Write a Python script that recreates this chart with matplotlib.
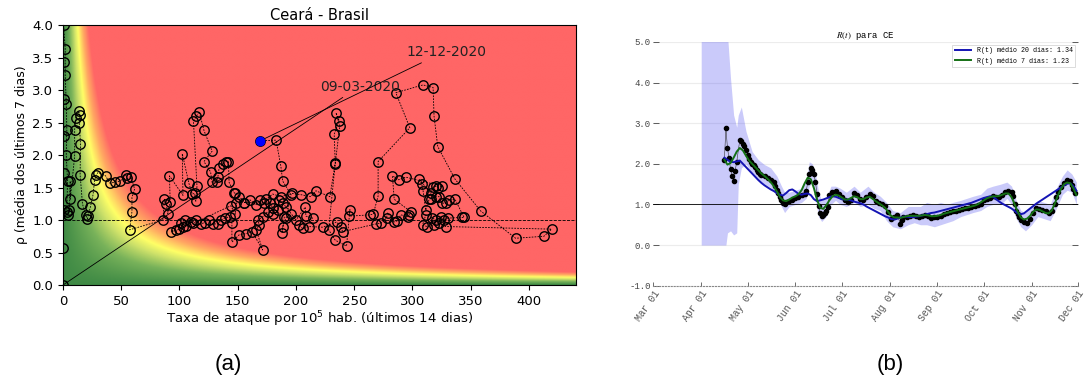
import numpy as np
import matplotlib
matplotlib.use('Agg')
import matplotlib.pyplot as plt
import matplotlib.dates as mdates
from matplotlib.colors import LinearSegmentedColormap

# --- (a) risk diagram: attack rate per 1e5 (14 days) vs rho (7 days)
att = [0, 0.3, 0.5, 0.5, 0.5, 0.5, 0.5, 0.5, 1.9, 1.9, 2.8, 3.3, 2.8, 3.9, 3.3, 3.9, 5.5, 6.2, 6.2,
       10, 10, 10.9, 13.5, 14.2, 14, 15, 14.7, 16.7, 19.6, 21, 21.5, 23.5, 25.8, 27.2, 28.6, 30,
       36.6, 40, 44.4, 49.2, 53.8, 55.2, 58, 61.5, 59.2, 59.2, 57.2,
       85.7, 87.1, 88.6, 90, 92, 91.4, 103, 102.4, 108, 111, 113, 114, 115, 112, 114.6, 116.9,
       121, 128, 121, 126.7, 128, 132.5, 133, 134, 137, 140, 142, 142.6, 146.9, 148, 151.5,
       155.8, 160.6, 165.8, 169.2, 174.4, 180, 187.2, 196.6, 204.3, 212.8, 217.1, 229.1, 233.7,
       232.8, 237, 234.3, 237.6, 233.7, 228, 233.7, 243.4, 246.3, 245.7, 263.4, 266.3, 270.5,
       270.5, 297.7, 285.7, 309, 317.7, 318.5, 321.7, 336.5, 358.5, 388.5, 412.8, 419.4,
       328.5, 322.8, 318.5, 312.8, 308.6, 311.4, 317.1, 320, 324.3, 327.1, 330.8, 342.3, 344.3,
       336.5, 331.4, 328.5, 325.1, 322.8, 320, 315.7, 314.3, 311.4, 309.1, 308, 305.7, 315.7,
       317.7, 320, 322.3, 325.7, 294.3, 288, 282.8, 284.3, 298.5, 297.1, 296.5, 290, 287.1,
       284.3, 278.6, 277.7, 272.8, 268.6, 240, 238.6, 234.8, 222.8, 210.8, 205.7, 202.3, 214.3,
       208.5, 208, 200, 195.8, 191.5, 188.6, 185.2, 184.4, 180, 175.8, 171.5, 167.2, 168.6,
       165.8, 171.4, 162.4, 156.7, 151, 145, 145, 143, 138.7, 135.8, 132.9, 128.6, 125.2, 121.5,
       118.1, 114.4, 110.1, 106, 103, 100, 97, 93, 101.5, 104.4, 112, 144, 148, 148.7, 155.8,
       172.9, 177.8, 180.1, 190, 188, 188.6, 191.5, 195.8, 188.6, 187, 182.9, 169.3]
rho = [0, 0.57, 1.15, 1.72, 2.29, 2.87, 3.44, 4.0, 3.64, 3.23, 2.79, 2.39, 2.0, 1.6, 1.13, 1.08, 1.15,
       1.6, 1.32, 1.98, 2.39, 2.57, 2.68, 2.62, 2.5, 2.17, 1.7, 1.25, 1.07, 1.02, 1.06, 1.2, 1.39,
       1.62, 1.7, 1.73, 1.68, 1.57, 1.58, 1.6, 1.7, 1.64, 1.67, 1.48, 1.35, 1.13, 0.85,
       1.0, 1.32, 1.25, 1.1, 1.28, 1.68, 1.38, 2.02, 1.57, 1.4, 1.41, 1.29, 1.52, 2.52, 2.6, 2.67,
       2.38, 2.06, 1.9, 1.74, 1.58, 1.59, 1.67, 1.8, 1.86, 1.9, 1.9, 1.58, 1.42, 1.41, 1.36,
       1.27, 1.31, 1.23, 1.31, 1.32, 1.4, 1.36, 1.41, 1.39, 1.36, 1.45, 1.36, 1.88,
       2.32, 2.53, 2.65, 2.45, 1.87, 0.85, 0.69, 0.6, 1.16, 1.06, 1.08, 1.09, 1.37,
       1.9, 2.42, 2.96, 3.08, 3.04, 2.6, 2.13, 1.63, 1.14, 0.72, 0.75, 0.86,
       0.9, 0.95, 0.92, 0.9, 0.92, 1.08, 1.03, 1.0, 1.05, 1.0, 1.03, 1.04, 1.04,
       1.32, 1.31, 1.26, 1.26, 1.36, 1.36, 1.33, 1.32, 1.15, 1.45, 1.55, 1.63, 1.41,
       1.51, 1.52, 1.5, 1.52, 1.66, 1.62, 1.68, 1.32, 1.13, 1.08, 1.05, 1.08, 0.99,
       0.97, 1.11, 1.03, 0.95, 0.94, 0.82, 0.9, 0.97, 0.89, 0.9, 0.87, 0.92, 1.03,
       1.06, 1.2, 1.0, 1.1, 1.2, 1.26, 1.31, 1.15, 1.1, 1.13, 1.05, 1.0, 0.92,
       0.85, 0.54, 0.82, 0.79, 0.77, 0.66, 0.95, 1.05, 1.03, 1.0, 0.94, 0.94, 1.0, 0.96,
       0.94, 1.0, 0.97, 0.91, 0.9, 0.86, 0.84, 0.82, 0.96, 1.0, 0.95, 1.22, 1.09, 1.26, 1.27,
       1.26, 1.27, 1.18, 1.05, 0.8, 0.9, 1.03, 1.39, 1.6, 1.83, 2.23, 2.22]
first_label = '09-03-2020'
last_label = '12-12-2020'

# --- (b) R(t) for CE, days counted from 2020-03-01
dot_day = [46, 47, 48, 49, 50, 51, 52, 53, 54, 56, 57, 58, 59, 60, 61, 62, 63, 64, 65, 66, 67, 68,
           69, 70, 72, 74, 76, 78, 79, 80, 81, 82, 83, 84, 85, 86, 88, 90, 92, 94, 96, 98, 99, 100,
           101, 102, 103, 104, 105, 106, 107, 108, 109, 110, 111, 112, 113, 114, 116, 118, 120,
           122, 124, 126, 128, 130, 132, 134, 136, 138, 140, 142, 144, 146, 148, 150, 152, 154,
           156, 158, 160, 161, 162, 164, 166, 168, 170, 172, 174, 176, 178, 180, 182, 184, 186,
           188, 190, 192, 194, 196, 198, 200, 202, 204, 206, 208, 210, 212, 214, 216, 218, 220,
           222, 224, 226, 228, 230, 232, 233, 234, 235, 236, 237, 238, 240, 242, 244, 246, 248,
           250, 252, 254, 256, 258, 260, 261, 262, 264, 266, 268, 270, 271, 272, 273]
dot_r = [2.10, 2.88, 2.39, 2.14, 1.87, 1.71, 1.57, 1.83, 2.05, 2.59, 2.55, 2.49, 2.43, 2.35, 2.22,
         2.12, 2.04, 2.00, 1.98, 1.92, 1.86, 1.80, 1.76, 1.72, 1.69, 1.65, 1.60, 1.55, 1.46, 1.36,
         1.28, 1.18, 1.10, 1.03, 1.01, 1.05, 1.08, 1.12, 1.15, 1.19, 1.22, 1.26, 1.32, 1.55, 1.75,
         1.90, 1.86, 1.74, 1.55, 1.25, 0.97, 0.78, 0.72, 0.74, 0.78, 0.85, 0.93, 1.22, 1.30, 1.33,
         1.26, 1.18, 1.10, 1.06, 1.12, 1.28, 1.24, 1.14, 1.12, 1.18, 1.26, 1.20, 1.08, 1.03, 1.00,
         0.97, 0.82, 0.64, 0.68, 0.74, 0.52, 0.62, 0.68, 0.70, 0.72, 0.74, 0.71, 0.70, 0.72, 0.75,
         0.72, 0.67, 0.68, 0.70, 0.72, 0.76, 0.79, 0.81, 0.83, 0.85, 0.87, 0.88, 0.90, 0.92, 0.94,
         0.96, 0.98, 1.02, 1.10, 1.14, 1.17, 1.20, 1.19, 1.18, 1.22, 1.30, 1.33, 1.30, 1.20, 1.00,
         0.85, 0.76, 0.70, 0.62, 0.56, 0.55, 0.63, 0.78, 0.90, 0.88, 0.86, 0.83, 0.80, 0.84, 1.00,
         1.18, 1.30, 1.42, 1.53, 1.61, 1.57, 1.47, 1.38, 1.28]

line_day = list(range(46, 275, 2))
r20 = [2.15, 2.10, 2.05, 2.04, 2.06, 2.08, 2.00, 1.92, 1.84, 1.76, 1.68, 1.60, 1.53, 1.47, 1.42,
       1.37, 1.33, 1.28, 1.24, 1.22, 1.28, 1.35, 1.37, 1.32, 1.26, 1.24, 1.26, 1.27, 1.23, 1.13,
       1.08, 1.10, 1.12, 1.15, 1.18, 1.20, 1.19, 1.16, 1.13, 1.12, 1.12, 1.10, 1.07, 1.05, 1.03,
       1.00, 0.95, 0.91, 0.87, 0.83, 0.79, 0.75, 0.71, 0.68, 0.64, 0.63, 0.65, 0.68, 0.70, 0.70,
       0.69, 0.69, 0.70, 0.71, 0.73, 0.75, 0.77, 0.79, 0.80, 0.82, 0.84, 0.86, 0.88, 0.90, 0.92,
       0.94, 0.96, 0.98, 1.00, 1.02, 1.04, 1.07, 1.10, 1.13, 1.16, 1.18, 1.20, 1.19, 1.13, 1.07,
       1.02, 0.98, 0.94, 0.90, 0.84, 0.78, 0.76, 0.78, 0.84, 0.90, 0.96, 1.02, 1.07, 1.12, 1.17,
       1.22, 1.27, 1.32, 1.37, 1.42, 1.47, 1.51, 1.52, 1.45, 1.34]
r7 = [2.10, 1.98, 2.02, 2.15, 2.30, 2.39, 2.33, 2.20, 2.08, 2.00, 1.92, 1.84, 1.76, 1.70, 1.63,
      1.55, 1.45, 1.32, 1.18, 1.10, 1.08, 1.12, 1.17, 1.20, 1.25, 1.35, 1.52, 1.66, 1.62, 1.40,
      1.12, 0.92, 0.89, 0.98, 1.10, 1.20, 1.24, 1.22, 1.17, 1.12, 1.12, 1.16, 1.20, 1.18, 1.13,
      1.13, 1.17, 1.19, 1.14, 1.08, 1.03, 0.98, 0.92, 0.82, 0.72, 0.68, 0.68, 0.67, 0.69, 0.71,
      0.72, 0.72, 0.72, 0.72, 0.73, 0.74, 0.73, 0.71, 0.71, 0.72, 0.74, 0.77, 0.79, 0.81, 0.83,
      0.85, 0.87, 0.89, 0.91, 0.93, 0.95, 0.97, 1.00, 1.05, 1.10, 1.15, 1.18, 1.20, 1.20, 1.21,
      1.24, 1.27, 1.27, 1.18, 1.00, 0.82, 0.68, 0.63, 0.65, 0.72, 0.82, 0.88, 0.87, 0.83, 0.79,
      0.78, 0.85, 1.02, 1.22, 1.38, 1.50, 1.54, 1.52, 1.40, 1.23]

band_day = [31, 47, 48, 50, 52, 54, 55, 57, 60, 64, 68, 72, 76, 80, 83, 85, 88, 92, 96, 99, 101,
            103, 105, 107, 109, 112, 115, 118, 121, 125, 130, 134, 139, 143, 147, 151, 155, 160,
            165, 169, 173, 177, 182, 186, 190, 194, 199, 203, 207, 212, 216, 220, 225, 229, 232,
            235, 238, 241, 245, 249, 253, 257, 261, 265, 268, 271, 274]
band_lo = [0, 0, 0.3, 0.35, 0.25, 0.3, 1.5, 1.9, 2.0, 1.75, 1.6, 1.5, 1.42, 1.2, 0.95, 0.8, 0.95,
           1.0, 1.05, 1.15, 1.45, 1.55, 1.1, 0.7, 0.58, 0.7, 1.0, 1.1, 1.0, 0.95, 1.05, 0.95, 1.0,
           0.9, 0.85, 0.6, 0.45, 0.4, 0.5, 0.55, 0.5, 0.5, 0.45, 0.5, 0.55, 0.6, 0.7, 0.75, 0.8,
           0.85, 0.95, 1.0, 1.0, 1.15, 1.0, 0.65, 0.45, 0.35, 0.5, 0.7, 0.65, 0.6, 0.9, 1.25, 1.35,
           1.3, 1.0]
band_hi = [5.2, 5.2, 5.2, 4.1, 3.2, 2.9, 3.2, 3.4, 2.8, 2.3, 2.1, 1.98, 1.9, 1.7, 1.45, 1.3, 1.3,
           1.35, 1.4, 1.6, 2.05, 2.0, 1.75, 1.3, 1.1, 1.15, 1.45, 1.45, 1.4, 1.3, 1.45, 1.3, 1.45,
           1.3, 1.2, 1.05, 0.85, 0.8, 0.95, 0.95, 0.95, 1.05, 1.0, 1.05, 1.0, 1.05, 1.1, 1.15, 1.2,
           1.25, 1.4, 1.45, 1.5, 1.55, 1.45, 1.1, 0.85, 0.8, 0.95, 1.1, 1.05, 1.0, 1.4, 1.7, 1.85,
           1.75, 1.55]
r20_last = 1.34
r7_last = 1.23

fig = plt.figure(figsize=(10.86, 3.85), dpi=100)

# ------------------ panel (a)
ax1 = fig.add_axes([0.058, 0.2597, 0.472, 0.675])
risk = LinearSegmentedColormap.from_list('risk', [
    (0.0, '#3f8a45'), (0.2, '#78b25a'), (0.36, '#cfe26a'), (0.47, '#ffff66'),
    (0.64, '#ffa862'), (0.82, '#ff6666'), (1.0, '#ff6666')])
gx, gy = np.meshgrid(np.linspace(0, 440, 600), np.linspace(0, 4, 400))
ax1.imshow(gx * gy, extent=[0, 440, 0, 4], origin='lower', aspect='auto',
           cmap=risk, vmin=0, vmax=105, interpolation='bilinear')
ax1.axhline(1, color='k', ls='--', lw=0.6)
ax1.plot(att, rho, color='k', ls=(0, (2, 1.5)), lw=0.6, marker='o', mfc='none',
         mec='k', ms=6.8, mew=1.0)
ax1.plot(att[-1], rho[-1], 'o', color='blue', ms=6, zorder=5)
ax1.annotate(first_label, xy=(att[0], rho[0]), xytext=(255, 3.05), ha='center', va='center',
             fontsize=10, color='#222222',
             arrowprops=dict(arrowstyle='-', color='k', lw=0.6, relpos=(0.35, 0), shrinkA=1, shrinkB=0))
ax1.annotate(last_label, xy=(att[-1], rho[-1]), xytext=(329.5, 3.58), ha='center', va='center',
             fontsize=10, color='#222222',
             arrowprops=dict(arrowstyle='-', color='k', lw=0.6, relpos=(0.27, 0), shrinkA=1, shrinkB=0))
ax1.set_xlim(0, 440)
ax1.set_ylim(0, 4)
ax1.set_xticks(np.arange(0, 401, 50))
ax1.set_yticks(np.arange(0, 4.01, 0.5))
ax1.tick_params(labelsize=9.5)
ax1.set_title('Ceará - Brasil', fontsize=10.5, pad=4)
ax1.set_xlabel('Taxa de ataque por $10^5$ hab. (últimos 14 dias)', fontsize=9.5, labelpad=1)
ax1.set_ylabel('ρ (média dos últimos 7 dias)', fontsize=9, labelpad=3)

# ------------------ panel (b)
mono = 'Liberation Mono'
start = np.datetime64('2020-03-01')
to_dates = lambda days: start + np.array(days, dtype='timedelta64[D]')

ax2 = fig.add_axes([0.6016, 0.258, 0.391, 0.633])
ax2.fill_between(to_dates(band_day), band_lo, band_hi, color='#5050f0', alpha=0.3, lw=0)
ax2.axhline(1, color='k', lw=0.6, zorder=2)
ax2.plot(to_dates(dot_day), dot_r, color='#333333', lw=0.4, marker='o', ms=3.0, mfc='k',
         mec='k', zorder=3)
ax2.plot(to_dates(line_day), r20, color='#1414b4', lw=1.4, zorder=4,
         label='R(t) médio 20 dias: %.2f' % r20_last)
ax2.plot(to_dates(line_day), r7, color='#157015', lw=1.4, zorder=4,
         label='R(t) médio 7 dias: %.2f' % r7_last)
ax2.set_ylim(-1, 5)
ax2.set_xlim(np.datetime64('2020-03-01'), np.datetime64('2020-12-01'))
ax2.set_yticks(np.arange(-1, 5.1, 1))
ax2.yaxis.set_major_formatter(matplotlib.ticker.FormatStrFormatter('%.1f'))
ax2.xaxis.set_major_locator(mdates.MonthLocator())
ax2.xaxis.set_major_formatter(mdates.DateFormatter('%b %d'))
for y in range(0, 6):
    ax2.axhline(y, color='#ececec', lw=0.8, zorder=0)
for s in ['left', 'right', 'top']:
    ax2.spines[s].set_visible(False)
ax2.spines['bottom'].set_linestyle(':')
ax2.spines['bottom'].set_color('#888888')
ax2.tick_params(axis='y', direction='in', length=4, width=0.6, left=True, right=True,
                labelsize=6.5, pad=2, colors='#444444')
ax2.tick_params(axis='x', direction='in', length=3, width=0.6, labelsize=7, pad=2,
                colors='#555555')
for lab in ax2.get_xticklabels() + ax2.get_yticklabels():
    lab.set_family(mono)
for lab in ax2.get_xticklabels():
    lab.set_rotation(55)
    lab.set_ha('right')
    lab.set_rotation_mode('anchor')
ax2.set_title('$R(t)$ para CE', fontsize=6.5, family=mono, math_fontfamily='stix', pad=3)
leg = ax2.legend(loc='upper right', prop={'family': mono, 'size': 4.8}, frameon=True,
                 fancybox=False, edgecolor='#cccccc', borderaxespad=0.4, handlelength=2.5)
leg.get_frame().set_linewidth(0.6)

fig.text(0.21, 0.052, '(a)', fontsize=16, family='Liberation Sans', ha='center', va='center')
fig.text(0.8195, 0.052, '(b)', fontsize=16, family='Liberation Sans', ha='center', va='center')

fig.savefig('out.png', dpi=100)
